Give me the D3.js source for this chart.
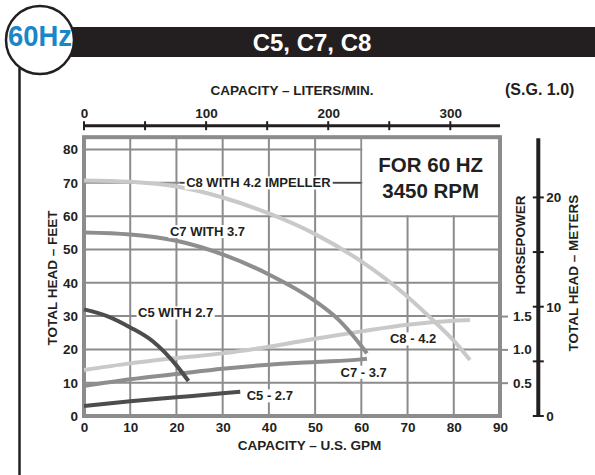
<!DOCTYPE html>
<html>
<head>
<meta charset="utf-8">
<script src="https://cdn.jsdelivr.net/npm/d3@7"></script>
<style>
  html, body { margin: 0; padding: 0; background: #fff; }
  svg { display: block; font-family: "Liberation Sans", Arial, Helvetica, sans-serif; font-weight: bold; }
</style>
</head>
<body>
<svg id="chart" width="595" height="475"></svg>
<script>
// ---- Performance data (capacity in U.S. GPM) ----
// Head curves, total head in feet
const c8HeadGpm = [0, 10, 20, 30, 40, 50, 60, 70, 75, 80, 83.5];
const c8Head    = [70.7, 70.3, 68.9, 65.6, 60.8, 54.6, 46.4, 35.8, 29.4, 22.6, 16.8];
const c7HeadGpm = [0, 10, 20, 30, 40, 50, 55, 60, 61.2];
const c7Head    = [55.1, 54.5, 52.6, 48.5, 42.5, 34.5, 29.0, 21.0, 18.8];
const c5HeadGpm = [0, 5, 10, 15, 20, 22.6];
const c5Head    = [32.0, 30.0, 26.6, 22.3, 15.2, 10.5];

// Horsepower curves
const c8HpGpm = [0, 10, 20, 30, 40, 50, 60, 70, 80, 83.5];
const c8Hp    = [0.69, 0.79, 0.87, 0.94, 1.04, 1.16, 1.27, 1.37, 1.43, 1.44];
const c7HpGpm = [0, 10, 20, 30, 40, 50, 60, 61.2];
const c7Hp    = [0.45, 0.55, 0.63, 0.71, 0.77, 0.81, 0.85, 0.86];
const c5HpGpm = [0, 10, 20, 30, 33.8];
const c5Hp    = [0.15, 0.22, 0.28, 0.34, 0.365];

// Axis ticks
const gpmTicks   = [0, 10, 20, 30, 40, 50, 60, 70, 80, 90];
const feetTicks  = [0, 10, 20, 30, 40, 50, 60, 70, 80];
const lpmTicks   = [0, 50, 100, 150, 200, 250, 300];
const lpmLabels  = [0, 100, 200, 300];
const hpTicks    = [0.5, 1.0, 1.5];
const meterTicks = [0, 5, 10, 15, 20];
const meterLabels = [0, 10, 20];

// Curve labels (anchored in GPM / feet)
const labelText = ["C8 WITH 4.2 IMPELLER", "C7 WITH 3.7", "C5 WITH 2.7", "C8 - 4.2", "C7 - 3.7", "C5 - 2.7"];
const labelGpm  = [22.1, 18.6, 11.7, 66.2, 55.5, 35.2];
const labelFeet = [70, 55.4, 31, 23.2, 13.2, 6.1];

// ---- Layout ----
const svg = d3.select("#chart");
const ink = "#231f20";
const gridColor = "#8c8c8c";
const colC8 = "#c9c9c9", colC7 = "#8e8e8e", colC5 = "#4d4d4d";

const x = d3.scaleLinear().domain([0, 90]).range([84, 500]);
const y = d3.scaleLinear().domain([0, 80]).range([416, 149.5]);
const LPM_PER_GPM = 3.785411784;
const FT_PER_M = 3.28084;
const xLpm = d3.scaleLinear().domain([0, 90 * LPM_PER_GPM]).range(x.range());
const yHp = d3.scaleLinear().domain([0, 80 / 20]).range(y.range());       // 0.5 HP per 10 ft
const yM = d3.scaleLinear().domain([0, 80 / FT_PER_M]).range(y.range());
const headTop = 83.7; // frame top in feet

// ---- Header: 60Hz badge and title bar ----
svg.append("rect").attr("x", 40).attr("y", 27).attr("width", 555).attr("height", 30).attr("fill", ink);
svg.append("line").attr("x1", 19.5).attr("x2", 19.5).attr("y1", 68).attr("y2", 475)
  .attr("stroke", ink).attr("stroke-width", 2.5);
svg.append("circle").attr("cx", 40).attr("cy", 40).attr("r", 34)
  .attr("fill", "#fff").attr("stroke", ink).attr("stroke-width", 2.5);
svg.append("text").attr("x", 40).attr("y", 45.5).attr("text-anchor", "middle")
  .attr("font-size", 30).attr("fill", "#1a86c8")
  .attr("textLength", 64).attr("lengthAdjust", "spacingAndGlyphs")
  .text("60Hz");
svg.append("text").attr("x", 312).attr("y", 50.5).attr("text-anchor", "middle")
  .attr("font-size", 24).attr("fill", "#fff").text("C5, C7, C8");

// ---- Grid ----
const grid = svg.append("g");
grid.selectAll(".gv").data(gpmTicks).join("line")
  .attr("x1", d => x(d)).attr("x2", d => x(d))
  .attr("y1", y(0)).attr("y2", y(headTop))
  .attr("stroke", gridColor).attr("stroke-width", 2);
grid.selectAll(".gh").data(feetTicks).join("line")
  .attr("x1", x(0)).attr("x2", x(90))
  .attr("y1", d => y(d)).attr("y2", d => y(d))
  .attr("stroke", gridColor).attr("stroke-width", 2);

// Blank panel for the speed note
svg.append("rect")
  .attr("x", x(60) + 1).attr("y", y(headTop))
  .attr("width", x(90) - x(60) - 1).attr("height", y(60) - y(headTop) - 1)
  .attr("fill", "#fff");
svg.append("text").attr("x", (x(60) + x(90)) / 2).attr("y", 171.7)
  .attr("text-anchor", "middle").attr("font-size", 20.5).attr("fill", ink).text("FOR 60 HZ");
svg.append("text").attr("x", (x(60) + x(90)) / 2).attr("y", 197.7)
  .attr("text-anchor", "middle").attr("font-size", 20.5).attr("fill", ink).text("3450 RPM");

// Frame
svg.append("rect")
  .attr("x", x(0)).attr("y", y(headTop))
  .attr("width", x(90) - x(0)).attr("height", y(0) - y(headTop))
  .attr("fill", "none").attr("stroke", gridColor).attr("stroke-width", 4);

// Leader for the C8 head label
svg.append("line").attr("x1", x(20.8)).attr("x2", x(60))
  .attr("y1", y(70)).attr("y2", y(70))
  .attr("stroke", "#444").attr("stroke-width", 1.5);

// ---- Curves ----
const lineFt = d3.line().x(d => x(d[0])).y(d => y(d[1])).curve(d3.curveMonotoneX);
const lineHp = d3.line().x(d => x(d[0])).y(d => yHp(d[1])).curve(d3.curveMonotoneX);
const curves = svg.append("g").attr("fill", "none").attr("stroke-width", 4).attr("stroke-linecap", "butt");

curves.append("path").attr("d", lineHp(d3.zip(c8HpGpm, c8Hp))).attr("stroke", colC8);
curves.append("path").attr("d", lineHp(d3.zip(c7HpGpm, c7Hp))).attr("stroke", colC7);
curves.append("path").attr("d", lineHp(d3.zip(c5HpGpm, c5Hp))).attr("stroke", colC5);
curves.append("path").attr("d", lineFt(d3.zip(c8HeadGpm, c8Head))).attr("stroke", colC8);
curves.append("path").attr("d", lineFt(d3.zip(c7HeadGpm, c7Head))).attr("stroke", colC7);
curves.append("path").attr("d", lineFt(d3.zip(c5HeadGpm, c5Head))).attr("stroke", colC5);

// ---- Curve labels on white backgrounds ----
labelText.forEach((t, i) => {
  const g = svg.append("g");
  const txt = g.append("text")
    .attr("x", x(labelGpm[i])).attr("y", y(labelFeet[i])).attr("dy", "0.36em")
    .attr("font-size", 13).attr("fill", ink).text(t);
  const b = txt.node().getBBox();
  g.insert("rect", "text")
    .attr("x", b.x - 1.5).attr("y", b.y + 1).attr("width", b.width + 3).attr("height", b.height - 2)
    .attr("fill", "#fff");
});

// ---- Axes ----
const fs = 13.5;
// Left: feet
const axL = svg.append("g").attr("transform", `translate(${x(0)},0)`)
  .call(d3.axisLeft(y).tickValues(feetTicks).tickSize(0).tickPadding(6));
// Bottom: GPM
const axB = svg.append("g").attr("transform", `translate(0,${y(0)})`)
  .call(d3.axisBottom(x).tickValues(gpmTicks).tickSize(0).tickPadding(6));
// Top: liters/min
const topY = 125.7;
svg.append("line").attr("x1", x(0) - 1).attr("x2", x(90)).attr("y1", topY).attr("y2", topY)
  .attr("stroke", ink).attr("stroke-width", 3);
svg.selectAll(".lt").data(lpmTicks).join("line")
  .attr("x1", d => xLpm(d)).attr("x2", d => xLpm(d))
  .attr("y1", topY - 4.5).attr("y2", topY + 4.5)
  .attr("stroke", ink).attr("stroke-width", 2);
const axT = svg.append("g").attr("transform", `translate(0,${topY})`)
  .call(d3.axisTop(xLpm).tickValues(lpmLabels).tickSize(0).tickPadding(8));
// Right: horsepower
const axR = svg.append("g").attr("transform", `translate(${x(90)},0)`)
  .call(d3.axisRight(yHp).tickValues(hpTicks).tickSize(8).tickPadding(5).tickFormat(d3.format(".1f")));
axR.selectAll(".tick line").attr("stroke", gridColor).attr("stroke-width", 2);
// Far right: meters
const mX = 538.3;
svg.append("line").attr("x1", mX).attr("x2", mX).attr("y1", yM(0)).attr("y2", y(headTop) + 1)
  .attr("stroke", ink).attr("stroke-width", 4);
svg.selectAll(".mt").data(meterTicks).join("line")
  .attr("x1", mX - 5.5).attr("x2", mX + 5.5)
  .attr("y1", d => yM(d)).attr("y2", d => yM(d))
  .attr("stroke", ink).attr("stroke-width", 2);
svg.selectAll(".ml").data(meterLabels).join("text")
  .attr("x", mX + 8).attr("y", d => yM(d)).attr("dy", "0.36em")
  .attr("font-size", fs).attr("fill", ink).text(d => d);

[axL, axB, axT, axR].forEach(a => {
  a.select(".domain").remove();
  a.selectAll("text").attr("font-size", fs).attr("font-family", null).attr("fill", ink);
});
svg.selectAll(".tick text").style("font-weight", "bold");

// ---- Axis titles ----
svg.append("text").attr("x", 292).attr("y", 95).attr("text-anchor", "middle")
  .attr("font-size", fs).attr("fill", ink).text("CAPACITY – LITERS/MIN.");
svg.append("text").attr("x", 309.5).attr("y", 450).attr("text-anchor", "middle")
  .attr("font-size", fs).attr("fill", ink).text("CAPACITY – U.S. GPM");
svg.append("text").attr("x", 505).attr("y", 95)
  .attr("font-size", 16).attr("fill", ink).text("(S.G. 1.0)");
const vTitle = (cx, cy, t) => svg.append("text")
  .attr("transform", `translate(${cx},${cy}) rotate(-90)`)
  .attr("text-anchor", "middle").attr("dy", "0.36em")
  .attr("font-size", fs).attr("fill", ink).text(t);
vTitle(51.7, 278, "TOTAL HEAD – FEET");
vTitle(520, 245, "HORSEPOWER");
vTitle(573, 273, "TOTAL HEAD – METERS");
</script>
</body>
</html>
